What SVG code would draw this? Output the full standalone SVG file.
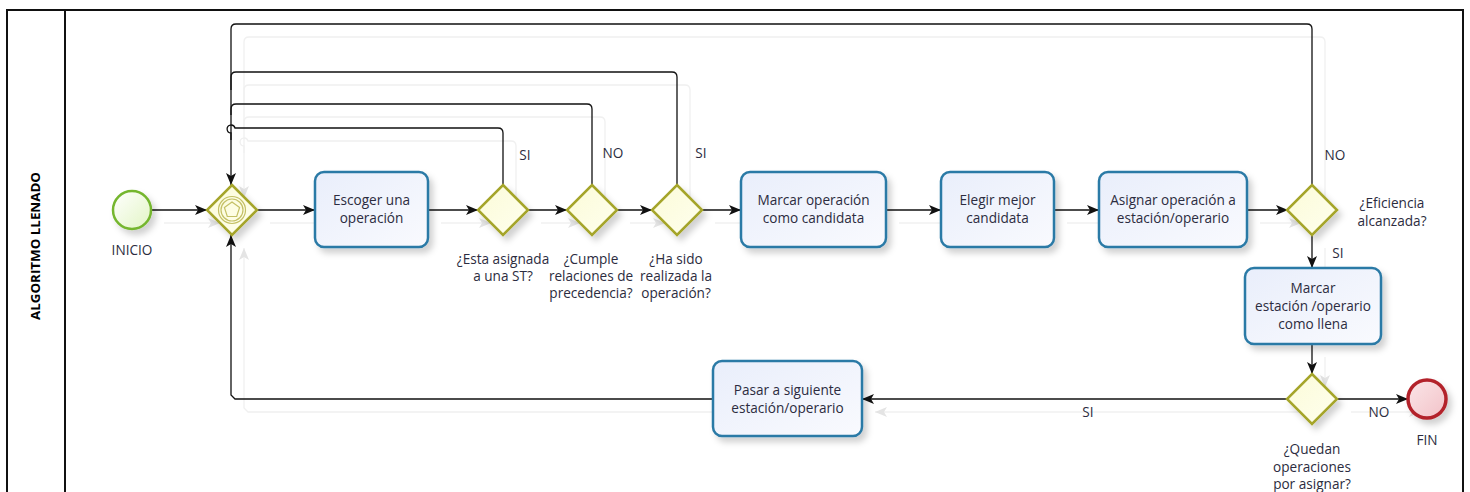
<svg xmlns="http://www.w3.org/2000/svg" xmlns:xlink="http://www.w3.org/1999/xlink" width="1470" height="492" viewBox="0 0 1470 492">
  <style>
    .frame { fill: none; stroke: #111; stroke-width: 2; }
    .task { fill: url(#taskFill); stroke: #2b7aa6; stroke-width: 2.5; filter: url(#shadow); }
    .gw { fill: url(#gwFill); stroke: #a5a52a; stroke-width: 2.5; filter: url(#shadow); }
    .gwmark { fill: none; stroke: #c4c066; stroke-width: 1.2; }
    .start { fill: url(#startFill); stroke: #74b62e; stroke-width: 2.5; filter: url(#shadow); }
    .end { fill: url(#endFill); stroke: #b3222c; stroke-width: 3.5; filter: url(#shadow); }
    text { font-family: "Open Sans", "Noto Sans", "DejaVu Sans", sans-serif; font-size: 13.6px; fill: #2c2c40; text-anchor: middle; }
    .title { font-family: "Open Sans", "Liberation Sans", sans-serif; font-weight: bold; font-size: 13px; fill: #000; }
  </style>
  <defs>
    <linearGradient id="taskFill" x1="0" y1="0" x2="1" y2="1">
      <stop offset="0" stop-color="#e9eefb"/>
      <stop offset="1" stop-color="#f9fafe"/>
    </linearGradient>
    <linearGradient id="gwFill" x1="0" y1="0" x2="1" y2="1">
      <stop offset="0" stop-color="#fbfbd8"/>
      <stop offset="1" stop-color="#ffffee"/>
    </linearGradient>
    <linearGradient id="startFill" x1="0" y1="0" x2="1" y2="1">
      <stop offset="0" stop-color="#ffffff"/>
      <stop offset="1" stop-color="#e2f5c4"/>
    </linearGradient>
    <linearGradient id="endFill" x1="0" y1="0" x2="1" y2="1">
      <stop offset="0" stop-color="#fbe6e8"/>
      <stop offset="1" stop-color="#f2c2c8"/>
    </linearGradient>
    <filter id="shadow" x="-20%" y="-20%" width="150%" height="150%">
      <feDropShadow dx="4" dy="5" stdDeviation="3" flood-color="#000" flood-opacity="0.18"/>
    </filter>
    <marker id="arr" viewBox="0 0 12 10" refX="12" refY="5" markerWidth="12" markerHeight="10" orient="auto" markerUnits="userSpaceOnUse">
      <path d="M0,0 L12,5 L0,10 L3,5 z" fill="#111"/>
    </marker>
    <marker id="arrGhost" viewBox="0 0 12 10" refX="12" refY="5" markerWidth="12" markerHeight="10" orient="auto" markerUnits="userSpaceOnUse">
      <path d="M0,0 L12,5 L0,10 L3,5 z" fill="#e4e4e4"/>
    </marker>
  </defs>

  <rect width="1470" height="492" fill="#fff"/>

  <!-- pool and lane -->
  <g id="pool">
    <rect class="frame" x="7" y="10" width="1456" height="500"/>
    <line class="frame" x1="65" y1="10" x2="65" y2="492"/>
    <text class="title" transform="translate(40,246) rotate(-90)" textLength="148" lengthAdjust="spacingAndGlyphs">ALGORITMO LLENADO</text>
  </g>

  <!-- faint offset copy of the sequence flows -->
  <use xlink:href="#flowPaths" href="#flowPaths" transform="translate(13,13)" stroke="#f0f0f0" marker-end="url(#arrGhost)"/>

  <!-- sequence flows -->
  <g id="connectors" fill="none" stroke="#111" stroke-width="1.3" marker-end="url(#arr)">
    <g id="flowPaths" fill="none" stroke-width="1.3">
      <path d="M151,210 H207"/>
      <path d="M257,210 H315"/>
      <path d="M428,210 H478"/>
      <path d="M528,210 H567"/>
      <path d="M617,210 H652"/>
      <path d="M702,210 H741"/>
      <path d="M886,210 H941"/>
      <path d="M1054,210 H1099"/>
      <path d="M1247,210 H1288"/>
      <path d="M1312,235 V268"/>
      <path d="M1312,344 V374"/>
      <path d="M1338,399 H1408"/>
      <path d="M1288,399 H862"/>
      <path d="M713,399 H235 L231,395 V235"/>
      <path d="M1312,185 V29 Q1312,24 1307,24 H236 Q231,24 231,29 V185"/>
      <path d="M677,185 V77 Q677,72 672,72 H236 Q231,72 231,77 V90" marker-end="none"/>
      <path d="M592,185 V109 Q592,104 587,104 H236 Q231,104 231,109 V115" marker-end="none"/>
      <path d="M503,185 V133 Q503,128 498,128 H235 A4,4 0 1 0 231,133 V140" marker-end="none"/>
    </g>
  </g>

  <!-- events -->
  <g id="inicio">
    <circle class="start" cx="132" cy="210" r="19"/>
    <text x="132" y="255">INICIO</text>
  </g>
  <g id="fin">
    <circle class="end" cx="1427" cy="399" r="19"/>
    <text x="1427" y="445">FIN</text>
  </g>

  <!-- merging gateway -->
  <g id="gw-inicio" transform="translate(232,210)">
    <polygon class="gw" points="0,-25 25,0 0,25 -25,0"/>
    <circle class="gwmark" r="13.5"/>
    <circle class="gwmark" r="11"/>
    <polygon class="gwmark" points="0,-8 7.6,-2.5 4.7,6.5 -4.7,6.5 -7.6,-2.5"/>
  </g>

  <!-- tasks -->
  <g id="escoger">
    <rect class="task" x="315" y="172" width="113" height="75" rx="9"/>
    <text x="371.5" y="205">Escoger una</text>
    <text x="371.5" y="223">operación</text>
  </g>
  <g id="marcar-candidata">
    <rect class="task" x="741" y="172" width="145" height="75" rx="9"/>
    <text x="813.5" y="205">Marcar operación</text>
    <text x="813.5" y="223">como candidata</text>
  </g>
  <g id="elegir">
    <rect class="task" x="941" y="172" width="113" height="75" rx="9"/>
    <text x="997.5" y="205">Elegir mejor</text>
    <text x="997.5" y="223">candidata</text>
  </g>
  <g id="asignar">
    <rect class="task" x="1099" y="172" width="148" height="75" rx="9"/>
    <text x="1173" y="205">Asignar operación a</text>
    <text x="1173" y="223">estación/operario</text>
  </g>
  <g id="marcar-llena">
    <rect class="task" x="1245" y="268" width="136" height="76" rx="9"/>
    <text x="1313" y="293">Marcar</text>
    <text x="1313" y="311">estación /operario</text>
    <text x="1313" y="329">como llena</text>
  </g>
  <g id="pasar">
    <rect class="task" x="713" y="361" width="149" height="75" rx="9"/>
    <text x="787.5" y="395">Pasar a siguiente</text>
    <text x="787.5" y="413">estación/operario</text>
  </g>

  <!-- decision gateways -->
  <g id="gw-asignada">
    <polygon class="gw" points="503,185 528,210 503,235 478,210"/>
    <text x="525" y="160">SI</text>
    <text x="503" y="264">¿Esta asignada</text>
    <text x="503" y="281">a una ST?</text>
  </g>
  <g id="gw-precedencia">
    <polygon class="gw" points="592,185 617,210 592,235 567,210"/>
    <text x="613" y="158">NO</text>
    <text x="591" y="264">¿Cumple</text>
    <text x="591" y="281">relaciones de</text>
    <text x="591" y="298">precedencia?</text>
  </g>
  <g id="gw-realizada">
    <polygon class="gw" points="677,185 702,210 677,235 652,210"/>
    <text x="701" y="158">SI</text>
    <text x="676" y="264">¿Ha sido</text>
    <text x="676" y="281">realizada la</text>
    <text x="676" y="298">operación?</text>
  </g>
  <g id="gw-eficiencia">
    <polygon class="gw" points="1312,185 1337,210 1312,235 1287,210"/>
    <text x="1335" y="160">NO</text>
    <text x="1338" y="258">SI</text>
    <text x="1392" y="208">¿Eficiencia</text>
    <text x="1392" y="226">alcanzada?</text>
  </g>
  <g id="gw-quedan">
    <polygon class="gw" points="1312,374 1337,399 1312,424 1287,399"/>
    <text x="1088" y="417">SI</text>
    <text x="1379" y="417">NO</text>
    <text x="1312" y="454">¿Quedan</text>
    <text x="1312" y="472">operaciones</text>
    <text x="1312" y="489">por asignar?</text>
  </g>
</svg>
